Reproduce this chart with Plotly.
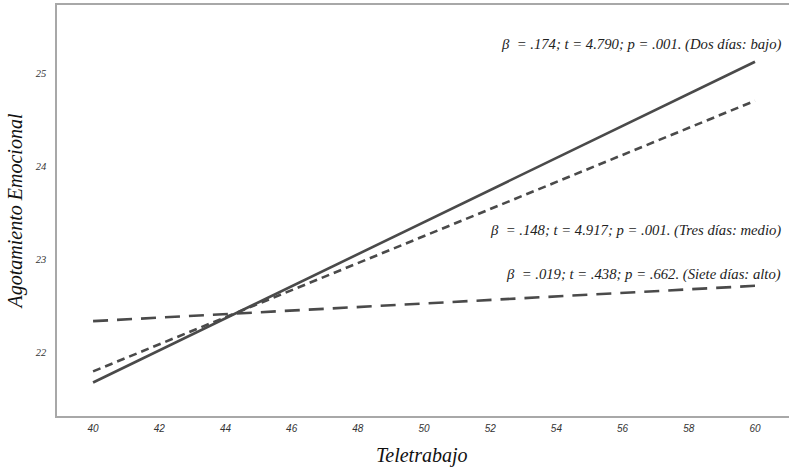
import plotly.graph_objects as go

# Data
x_vals = [40, 60]
bajo_dos = [21.67, 25.12]      # solid
medio_tres = [21.79, 24.70]    # short dash
alto_siete = [22.33, 22.71]    # long dash

x_ticks = [40, 42, 44, 46, 48, 50, 52, 54, 56, 58, 60]
y_ticks = [22, 23, 24, 25]

labels = [
    "β  = .174; t = 4.790; p = .001. (Dos días: bajo)",
    "β  = .148; t = 4.917; p = .001. (Tres días: medio)",
    "β  = .019; t = .438; p = .662. (Siete días: alto)",
]
label_y = [25.30, 23.30, 22.83]

line_col = "#4a4a4a"
fig = go.Figure()
fig.add_trace(go.Scatter(x=x_vals, y=bajo_dos, mode="lines",
                         line=dict(color=line_col, width=2.6), showlegend=False))
fig.add_trace(go.Scatter(x=x_vals, y=medio_tres, mode="lines",
                         line=dict(color=line_col, width=2.6, dash="8px,5px"), showlegend=False))
fig.add_trace(go.Scatter(x=x_vals, y=alto_siete, mode="lines",
                         line=dict(color=line_col, width=2.6, dash="15px,9px"), showlegend=False))

for txt, yy in zip(labels, label_y):
    fig.add_annotation(x=60.85, y=yy, xref="x", yref="y", text=txt, showarrow=False,
                       xanchor="right", yanchor="middle",
                       font=dict(family="Liberation Serif", size=14.7, color="#222222", style="italic"))

# x-axis title placed centred on the visible window width
fig.add_annotation(x=0.491, y=-0.095, xref="paper", yref="paper", text="Teletrabajo",
                   showarrow=False, xanchor="center", yanchor="middle",
                   font=dict(family="Liberation Serif", size=20, color="#111111", style="italic"))

fig.update_layout(
    width=800, height=470,
    margin=dict(l=57, r=0, t=5, b=54),
    paper_bgcolor="white", plot_bgcolor="white",
    xaxis=dict(range=[38.91, 61.36], tickvals=x_ticks, showgrid=False, zeroline=False,
               showline=True, linecolor="#a8a8a8", linewidth=1.5, mirror=True,
               ticks="", ticklabelstandoff=2,
               tickfont=dict(family="Liberation Sans", size=10, color="#333333", style="italic")),
    yaxis=dict(range=[21.31, 25.73], tickvals=y_ticks, showgrid=False, zeroline=False,
               showline=True, linecolor="#a8a8a8", linewidth=1.5, mirror=False,
               ticks="", ticklabelstandoff=7,
               tickfont=dict(family="Liberation Serif", size=10.5, color="#333333", style="italic"),
               title=dict(text="Agotamiento Emocional", standoff=8,
                          font=dict(family="Liberation Serif", size=20, color="#111111", style="italic"))),
)
fig.write_html("out.html", config={"displayModeBar": False},
               post_script="document.body.style.margin='0';document.body.style.overflow='hidden';")
